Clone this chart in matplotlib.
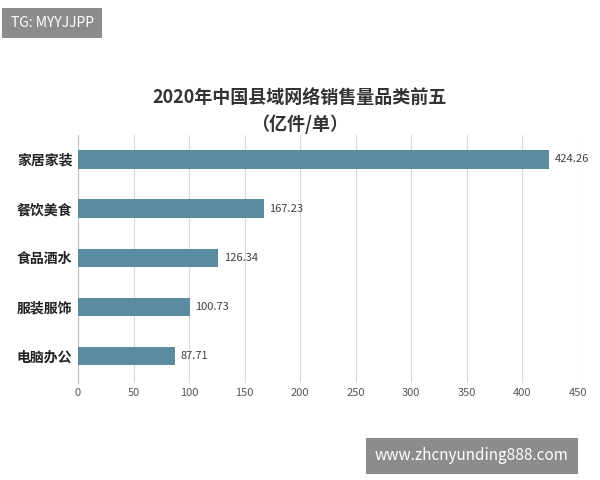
import matplotlib
matplotlib.use('Agg')
import matplotlib.pyplot as plt

plt.rcParams['font.family'] = ['Noto Sans CJK SC', 'DejaVu Sans']

categories = ['家居家装', '餐饮美食', '食品酒水', '服装服饰', '电脑办公']
values     = [424.26, 167.23, 126.34, 100.73, 87.71]
xticks     = [0, 50, 100, 150, 200, 250, 300, 350, 400, 450]

fig = plt.figure(figsize=(6, 4.8), dpi=100)
ax  = fig.add_axes([0.13, 0.202, 0.833, 0.517])

pos = list(range(len(categories)))
ax.barh(pos, values, height=0.37, color='#5b8ba0', zorder=3)
for p, v in zip(pos, values):
    ax.text(v + 5, p, f'{v:.2f}', va='center', ha='left', fontsize=8, color='#404040')

ax.set_xlim(0, 450)
ax.set_ylim(4.55, -0.5)
ax.set_xticks(xticks)
ax.set_yticks(pos)
ax.set_yticklabels(categories, fontsize=10, fontweight='bold', color='#222222')
ax.tick_params(axis='x', labelsize=8, colors='#555555', length=0)
ax.tick_params(axis='y', length=0, pad=4)
ax.grid(axis='x', color='#d9d9d9', lw=0.8, zorder=0)
for s in ['top', 'right', 'bottom']:
    ax.spines[s].set_visible(False)
ax.spines['left'].set_color('#bfbfbf')

fig.text(0.5, 0.785, '2020年中国县域网络销售量品类前五', ha='center', fontsize=13,
         fontweight='bold', color='#333333')
fig.text(0.5, 0.73, '（亿件/单）', ha='center', fontsize=13, fontweight='bold', color='#333333')

fig.text(0.018, 0.952, 'TG: MYYJJPP', fontsize=10, color='white', va='center',
         bbox=dict(boxstyle='square,pad=0.6', fc='#8c8c8c', ec='none'))
fig.text(0.625, 0.05, 'www.zhcnyunding888.com', fontsize=11, color='white', va='center',
         bbox=dict(boxstyle='square,pad=0.6', fc='#8c8c8c', ec='none'))

fig.savefig('out.png', dpi=100)
